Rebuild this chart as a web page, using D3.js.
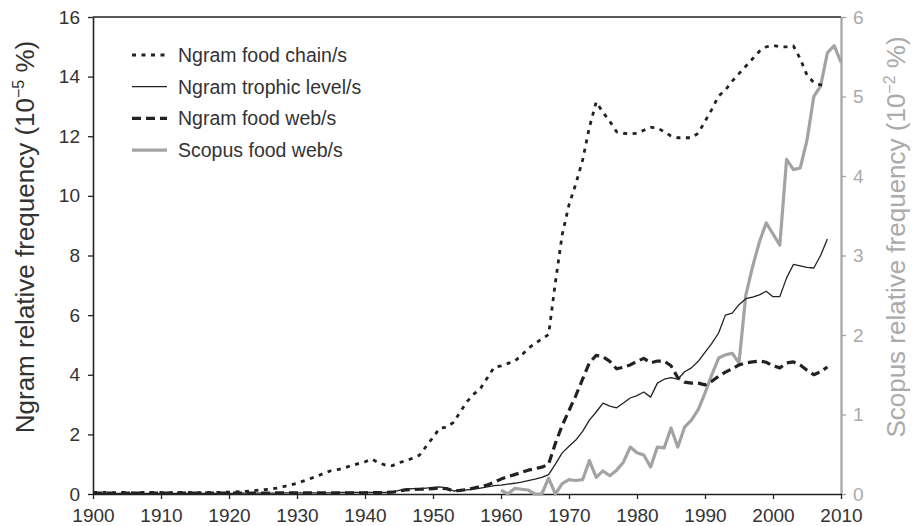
<!DOCTYPE html>
<html>
<head>
<meta charset="utf-8">
<script src="https://cdn.jsdelivr.net/npm/d3@7"></script>
<style>
  body { margin: 0; background: #fff; }
  svg { font-family: "Liberation Sans", Arial, sans-serif; }
</style>
</head>
<body>
<div class="chart"></div>
<script>
// data (Ngram series are yearly from 1900, Scopus yearly from 1960)
var ngramStart = 1900;
var foodChain = [
  0.05,0.05,0.05,0.04,0.05,0.05,0.04,0.05,0.05,0.05,
  0.05,0.04,0.05,0.05,0.05,0.04,0.05,0.05,0.05,0.06,
  0.06,0.07,0.08,0.10,0.12,0.14,0.16,0.20,0.25,0.30,
  0.36,0.44,0.52,0.60,0.70,0.78,0.82,0.88,0.95,1.02,
  1.08,1.17,1.05,0.97,0.95,1.05,1.12,1.20,1.30,1.60,
  1.90,2.21,2.24,2.40,2.75,3.10,3.35,3.55,3.90,4.25,
  4.30,4.38,4.45,4.65,4.88,5.05,5.20,5.35,7.10,8.70,
  9.70,10.4,11.2,12.3,13.15,12.8,12.5,12.15,12.1,12.08,
  12.1,12.2,12.3,12.28,12.15,12.01,11.95,11.95,11.95,12.1,
  12.5,12.9,13.35,13.55,13.85,14.1,14.35,14.6,14.85,15.0,
  15.05,15.0,15.0,15.03,14.6,14.05,13.8,13.72,13.7
];
var trophicLevel = [
  0.02,0.02,0.02,0.02,0.02,0.02,0.02,0.02,0.02,0.02,
  0.02,0.02,0.02,0.02,0.02,0.02,0.02,0.02,0.02,0.02,
  0.02,0.02,0.03,0.03,0.03,0.03,0.03,0.03,0.04,0.04,
  0.04,0.04,0.04,0.04,0.04,0.04,0.05,0.05,0.05,0.05,
  0.05,0.05,0.05,0.05,0.06,0.12,0.16,0.18,0.18,0.20,
  0.22,0.24,0.20,0.10,0.12,0.14,0.16,0.20,0.24,0.28,
  0.30,0.33,0.36,0.40,0.45,0.50,0.56,0.65,1.00,1.38,
  1.60,1.81,2.10,2.48,2.75,3.05,2.95,2.89,3.05,3.22,
  3.30,3.42,3.25,3.72,3.85,3.90,3.85,4.10,4.23,4.45,
  4.75,5.05,5.40,6.00,6.07,6.35,6.55,6.60,6.68,6.80,
  6.62,6.62,7.25,7.70,7.65,7.60,7.58,8.00,8.55
];
var foodWeb = [
  0.03,0.03,0.03,0.03,0.03,0.03,0.03,0.03,0.03,0.03,
  0.03,0.03,0.03,0.03,0.03,0.03,0.03,0.03,0.03,0.03,
  0.03,0.03,0.03,0.03,0.03,0.03,0.03,0.04,0.04,0.04,
  0.04,0.04,0.04,0.04,0.04,0.04,0.04,0.04,0.04,0.04,
  0.04,0.05,0.05,0.05,0.06,0.10,0.14,0.15,0.16,0.17,
  0.18,0.20,0.18,0.10,0.12,0.15,0.20,0.25,0.30,0.40,
  0.50,0.58,0.65,0.72,0.80,0.85,0.90,1.00,1.70,2.30,
  2.80,3.30,3.85,4.40,4.65,4.60,4.45,4.20,4.25,4.33,
  4.45,4.55,4.40,4.46,4.46,4.30,3.90,3.75,3.72,3.72,
  3.66,3.78,3.95,4.09,4.20,4.33,4.40,4.43,4.46,4.42,
  4.30,4.23,4.40,4.43,4.33,4.15,4.00,4.10,4.26
];
var scopusStart = 1960;
var scopusFoodWeb = [
  0.05,0.00,0.07,0.06,0.05,0.00,0.00,0.20,0.00,0.13,
  0.18,0.17,0.18,0.42,0.21,0.29,0.23,0.30,0.40,0.59,
  0.52,0.49,0.34,0.59,0.58,0.83,0.59,0.84,0.93,1.06,
  1.27,1.50,1.71,1.75,1.77,1.65,2.50,2.86,3.17,3.41,
  3.27,3.13,4.21,4.08,4.10,4.45,5.00,5.13,5.55,5.64,5.43
];
var xTicks = [1900,1910,1920,1930,1940,1950,1960,1970,1980,1990,2000,2010];
var leftTicks = [0,2,4,6,8,10,12,14,16];
var rightTicks = [0,1,2,3,4,5,6];
var legendLabels = ["Ngram food chain/s","Ngram trophic level/s","Ngram food web/s","Scopus food web/s"];

var svgWidth = 922, svgHeight = 526;
var margin = {top: 17, right: 81, bottom: 32, left: 93};
var width = svgWidth - margin.left - margin.right;
var height = svgHeight - margin.top - margin.bottom;
var grey = "#a3a3a3";

var svg = d3.select(".chart").append("svg")
  .attr("width", svgWidth)
  .attr("height", svgHeight);

var g = svg.append("g")
  .attr("transform", `translate(${margin.left}, ${margin.top})`);

var x = d3.scaleLinear().domain([1900, 2010]).range([0, width]);
var yL = d3.scaleLinear().domain([0, 16]).range([height, 0]);
var yR = d3.scaleLinear().domain([0, 6]).range([height, 0]);

// top frame line
g.append("line")
  .attr("x1", 0).attr("x2", width).attr("y1", 0).attr("y2", 0)
  .attr("stroke", "#222").attr("stroke-width", 1.5);

// axes
var xAxis = g.append("g")
  .attr("transform", `translate(0, ${height})`)
  .call(d3.axisBottom(x).tickValues(xTicks).tickFormat(d3.format("d")).tickSize(5).tickSizeOuter(0));
var leftAxis = g.append("g")
  .call(d3.axisLeft(yL).tickValues(leftTicks).tickSize(5).tickSizeOuter(0));
var rightAxis = g.append("g")
  .attr("transform", `translate(${width}, 0)`)
  .call(d3.axisRight(yR).tickValues(rightTicks).tickFormat(d3.format("d")).tickSize(5).tickSizeOuter(0));

[xAxis, leftAxis].forEach(function(a) {
  a.select(".domain").attr("stroke", "#222").attr("stroke-width", 1.6);
  a.selectAll(".tick line").attr("stroke", "#222").attr("stroke-width", 1.3);
  a.selectAll(".tick text").attr("fill", "#333").style("font-size", "19px");
});
xAxis.selectAll(".tick text").attr("y", 15);
leftAxis.selectAll(".tick text").attr("x", -13);
rightAxis.select(".domain").attr("stroke", grey).attr("stroke-width", 2.2);
rightAxis.selectAll(".tick line").attr("stroke", grey).attr("stroke-width", 1.3);
rightAxis.selectAll(".tick text").attr("fill", "#aaa").attr("x", 12).style("font-size", "19px");
// bottom axis line drawn over the grey axis end
xAxis.raise();

// axis titles
var lt = svg.append("text")
  .attr("transform", "translate(34, 237) rotate(-90)")
  .attr("text-anchor", "middle")
  .attr("fill", "#333")
  .style("font-size", "26px");
lt.append("tspan").text("Ngram relative frequency (10");
lt.append("tspan").text("\u22125").attr("dy", -10).style("font-size", "16px");
lt.append("tspan").text(" %)").attr("dy", 10);

var rt = svg.append("text")
  .attr("transform", "translate(905, 237) rotate(-90)")
  .attr("text-anchor", "middle")
  .attr("fill", "#aaa")
  .style("font-size", "26px");
rt.append("tspan").text("Scopus relative frequency (10");
rt.append("tspan").text("\u22122").attr("dy", -10).style("font-size", "16px");
rt.append("tspan").text(" %)").attr("dy", 10);

// series
var series = [
  {values: foodChain, start: ngramStart, y: yL, color: "#222", width: 2.8, dash: "4,5.5"},
  {values: trophicLevel, start: ngramStart, y: yL, color: "#222", width: 1.3, dash: null},
  {values: foodWeb, start: ngramStart, y: yL, color: "#222", width: 3.2, dash: "9,5"},
  {values: scopusFoodWeb, start: scopusStart, y: yR, color: grey, width: 3.2, dash: null}
];

// draw scopus first so the Ngram lines sit on top
[3, 0, 1, 2].forEach(function(i) {
  var s = series[i];
  var line = d3.line()
    .x(function(d, k) { return x(s.start + k); })
    .y(function(d) { return s.y(d); });
  g.append("path")
    .datum(s.values)
    .attr("fill", "none")
    .attr("stroke", s.color)
    .attr("stroke-width", s.width)
    .attr("stroke-dasharray", s.dash)
    .attr("stroke-linejoin", "round")
    .attr("d", line);
});

// legend
var legend = svg.append("g").attr("transform", "translate(132, 55)");
legendLabels.forEach(function(label, i) {
  var s = series[i];
  var row = legend.append("g").attr("transform", `translate(0, ${i * 31.7})`);
  row.append("line")
    .attr("x1", 0).attr("x2", 35).attr("y1", 0).attr("y2", 0)
    .attr("stroke", s.color)
    .attr("stroke-width", s.width)
    .attr("stroke-dasharray", s.dash);
  row.append("text")
    .attr("x", 46).attr("dy", "0.35em")
    .attr("fill", "#333")
    .style("font-size", "19.5px")
    .text(label);
});
</script>
</body>
</html>
